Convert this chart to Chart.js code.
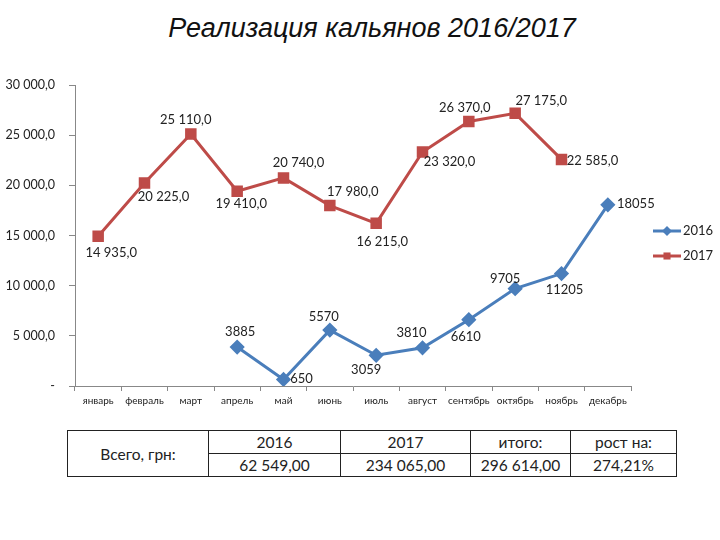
<!DOCTYPE html>
<html>
<head>
<meta charset="utf-8">
<script src="https://cdn.jsdelivr.net/npm/chart.js@4/dist/chart.umd.min.js"></script>
<style>
    body { margin: 0; background: #fff; }
    #wrap { position: relative; width: 720px; height: 540px; }
    #title {
        position: absolute; left: 0; top: 13px; width: 744px; text-align: center;
        font: italic 27px "Liberation Sans", Arial, sans-serif; color: #111;
    }
    #box { position: absolute; left: 0; top: 0; width: 720px; height: 411px; }
    #totals {
        position: absolute; left: 67px; top: 430px; border-collapse: collapse;
        font: 15.5px Lato, "Open Sans", sans-serif; color: #222;
    }
    #totals td { border: 1.5px solid #222; text-align: center; height: 22px; padding: 0; }
</style>
</head>
<body>
<div id="wrap">
    <div id="title">Реализация кальянов 2016/2017</div>
    <div id="box"><canvas id="sales-chart"></canvas></div>
    <table id="totals">
        <tr>
            <td rowspan="2" style="width:140px">Всего, грн:</td>
            <td style="width:131px">2016</td>
            <td style="width:129px">2017</td>
            <td style="width:99px">итого:</td>
            <td style="width:105px">рост на:</td>
        </tr>
        <tr>
            <td>62 549,00</td>
            <td>234 065,00</td>
            <td>296 614,00</td>
            <td>274,21%</td>
        </tr>
    </table>
</div>
<script>
var months = ['январь', 'февраль', 'март', 'апрель', 'май', 'июнь', 'июль', 'август', 'сентябрь', 'октябрь', 'ноябрь', 'декабрь'];
var sales2016 = [null, null, null, 3885, 650, 5570, 3059, 3810, 6610, 9705, 11205, 18055];
var sales2017 = [14935, 20225, 25110, 19410, 20740, 17980, 16215, 23320, 26370, 27175, 22585, null];
var yTicks = [0, 5000, 10000, 15000, 20000, 25000, 30000];

// where each value label sits relative to its point (dx, dy)
var labelShift2016 = [null, null, null, [3, -15], [18, -1], [-6, -13], [-10, 15], [-11, -15], [-3, 17], [-10, -10], [3, 16], [28, -1]];
var labelShift2017 = [[13, 17], [19, 14], [-5, -14], [4, 13], [15, -15], [23, -14], [6, 19], [27, 10], [-4, -14], [26, -13], [31, 1], null];

var blue = '#4A7EBB';
var red = '#BE4B48';

function fmtSpace(n) {
    return String(n).replace(/\B(?=(\d{3})+(?!\d))/g, ' ');
}

var valueLabels = {
    id: 'valueLabels',
    afterDatasetsDraw: function (chart) {
        var ctx = chart.ctx;
        ctx.save();
        ctx.font = '13px Lato, "Open Sans", sans-serif';
        ctx.fillStyle = '#222';
        ctx.textAlign = 'center';
        ctx.textBaseline = 'middle';
        chart.data.datasets.forEach(function (ds, di) {
            var meta = chart.getDatasetMeta(di);
            var shifts = di == 0 ? labelShift2016 : labelShift2017;
            meta.data.forEach(function (pt, i) {
                var v = ds.data[i];
                if (v == null || !shifts[i]) return;
                var txt = di == 0 ? String(v) : fmtSpace(v) + ',0';
                ctx.fillText(txt, pt.x + shifts[i][0], pt.y + shifts[i][1]);
            });
        });
        ctx.restore();
    }
};

var sideLegend = {
    id: 'sideLegend',
    afterDraw: function (chart) {
        var ctx = chart.ctx;
        var items = [[chart.data.datasets[0], 231], [chart.data.datasets[1], 256]];
        ctx.save();
        items.forEach(function (it) {
            var ds = it[0], y = it[1];
            ctx.strokeStyle = ds.borderColor;
            ctx.lineWidth = 3;
            ctx.beginPath();
            ctx.moveTo(653, y);
            ctx.lineTo(681, y);
            ctx.stroke();
            ctx.fillStyle = ds.borderColor;
            Chart.helpers.drawPoint(ctx, { pointStyle: ds.pointStyle, radius: 5, borderWidth: 0 }, 667, y);
            ctx.fillStyle = '#222';
            ctx.font = '13px Lato, "Open Sans", sans-serif';
            ctx.textBaseline = 'middle';
            ctx.fillText(ds.label, 683, y);
        });
        ctx.restore();
    }
};

var ctx = document.getElementById('sales-chart');
var salesChart = new Chart(ctx, {
    type: 'line',
    data: {
        labels: months,
        datasets: [{
            label: '2016',
            data: sales2016,
            borderColor: blue,
            backgroundColor: blue,
            borderWidth: 3,
            pointStyle: 'rectRot',
            pointRadius: 5.5,
            pointHoverRadius: 5.5,
            tension: 0
        }, {
            label: '2017',
            data: sales2017,
            borderColor: red,
            backgroundColor: red,
            borderWidth: 3,
            pointStyle: 'rect',
            pointRadius: 6,
            pointHoverRadius: 6,
            tension: 0
        }]
    },
    options: {
        responsive: true,
        maintainAspectRatio: false,
        animation: false,
        layout: { padding: { left: 0, right: 89, top: 85, bottom: 0 } },
        plugins: {
            legend: { display: false },
            tooltip: { enabled: false }
        },
        scales: {
            x: {
                offset: true,
                grid: { offset: true, drawOnChartArea: false, tickLength: 5, color: '#888' },
                border: { color: '#888' },
                ticks: {
                    autoSkip: false, maxRotation: 0, color: '#222', padding: 4,
                    font: { size: 10, family: 'Lato, "Open Sans", sans-serif' }
                }
            },
            y: {
                min: 0,
                max: 30000,
                afterBuildTicks: function (scale) {
                    scale.ticks = yTicks.map(function (v) { return { value: v }; });
                },
                afterFit: function (scale) { scale.width = 75; },
                grid: { drawOnChartArea: false, tickLength: 6, color: '#888' },
                border: { color: '#888' },
                ticks: {
                    color: '#222', padding: 14,
                    font: { size: 12.5, family: 'Lato, "Open Sans", sans-serif' },
                    callback: function (v) { return v == 0 ? '-' : fmtSpace(v) + ',0'; }
                }
            }
        }
    },
    plugins: [valueLabels, sideLegend]
});
</script>
</body>
</html>
